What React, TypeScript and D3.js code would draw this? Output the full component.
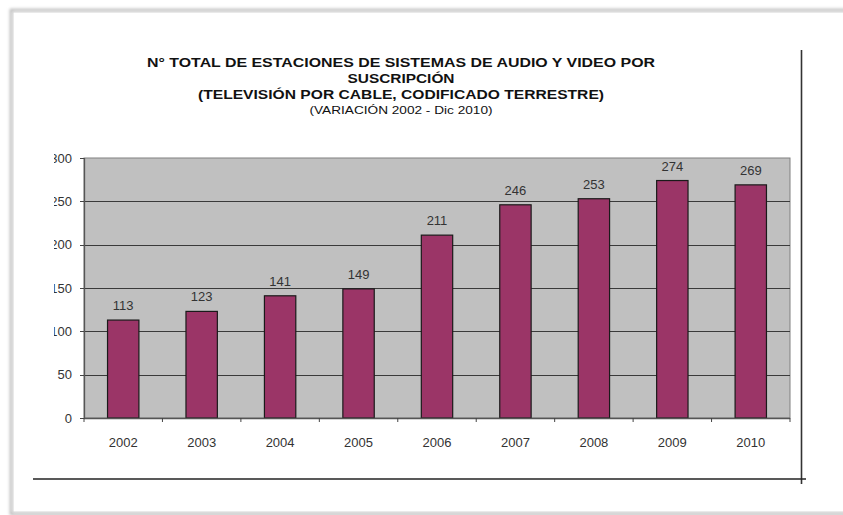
import React, { useEffect, useRef } from "react";
import * as d3 from "d3";

const years = ["2002", "2003", "2004", "2005", "2006", "2007", "2008", "2009", "2010"];
const stations = [113, 123, 141, 149, 211, 246, 253, 274, 269];
const yTicks = [0, 50, 100, 150, 200, 250, 300];
const titleLines = [
  "N° TOTAL DE ESTACIONES DE SISTEMAS DE AUDIO Y VIDEO POR",
  "SUSCRIPCIÓN",
  "(TELEVISIÓN POR CABLE, CODIFICADO TERRESTRE)",
];
const subtitle = "(VARIACIÓN  2002 -  Dic 2010)";

export default function App() {
  const ref = useRef<SVGSVGElement | null>(null);

  useEffect(() => {
    const svg = d3.select(ref.current);
    svg.selectAll("*").remove();
    const W = 843, H = 515;
    const left = 84, right = 790, top = 158, bottom = 418;

    const defs = svg.append("defs");
    const f = defs.append("filter").attr("id", "sh").attr("x", "-5%").attr("y", "-5%").attr("width", "110%").attr("height", "110%");
    f.append("feGaussianBlur").attr("stdDeviation", 1.6);
    defs.append("clipPath").attr("id", "yclip").append("rect").attr("x", 54).attr("y", 0).attr("width", 100).attr("height", H);

    svg.append("rect").attr("width", W).attr("height", H).attr("fill", "#ffffff");
    // page frame with soft shadow
    svg.append("rect").attr("x", 11).attr("y", 10).attr("width", W).attr("height", 504)
      .attr("fill", "none").attr("stroke", "#b8b8b8").attr("stroke-width", 2.5).attr("filter", "url(#sh)");
    svg.append("rect").attr("x", 13).attr("y", 12).attr("width", W).attr("height", 500)
      .attr("fill", "#ffffff").attr("stroke", "#d4d4d4").attr("stroke-width", 1);

    const x = d3.scaleBand<string>().domain(years).range([left, right]).paddingInner(0.6).paddingOuter(0.3);
    const y = d3.scaleLinear().domain([0, 300]).range([bottom, top]);

    // plot area
    svg.append("rect").attr("x", left).attr("y", top).attr("width", right - left).attr("height", bottom - top)
      .attr("fill", "#c0c0c0").attr("stroke", "#808080").attr("stroke-width", 1);

    // gridlines
    svg.append("g").selectAll("line").data(yTicks.filter(t => t > 0 && t < 300)).join("line")
      .attr("x1", left).attr("x2", right)
      .attr("y1", d => Math.round(y(d)) + 0.5).attr("y2", d => Math.round(y(d)) + 0.5)
      .attr("stroke", "#3a3a3a").attr("stroke-width", 1);

    // bars
    svg.append("g").selectAll("rect").data(stations).join("rect")
      .attr("x", (_, i) => x(years[i])!)
      .attr("y", d => y(d))
      .attr("width", x.bandwidth())
      .attr("height", d => bottom - y(d))
      .attr("fill", "#9b3567").attr("stroke", "#1a1a1a").attr("stroke-width", 1.2);

    const font = "Liberation Sans, Arial, sans-serif";

    // value labels
    svg.append("g").selectAll("text").data(stations).join("text")
      .attr("x", (_, i) => x(years[i])! + x.bandwidth() / 2)
      .attr("y", d => y(d) - 10)
      .attr("text-anchor", "middle")
      .attr("font-family", font)
      .attr("font-size", 13).attr("fill", "#333")
      .text(d => String(d));

    // y axis
    const ya = svg.append("g");
    ya.append("line").attr("x1", left + 0.5).attr("x2", left + 0.5).attr("y1", top).attr("y2", bottom)
      .attr("stroke", "#555").attr("stroke-width", 1.3);
    ya.selectAll("line.t").data(yTicks).join("line").attr("class", "t")
      .attr("x1", left - 4).attr("x2", left)
      .attr("y1", d => Math.round(y(d)) + 0.5).attr("y2", d => Math.round(y(d)) + 0.5)
      .attr("stroke", "#444");
    ya.append("g").attr("clip-path", "url(#yclip)").selectAll("text").data(yTicks).join("text")
      .attr("x", 72).attr("y", d => y(d) + 4.5)
      .attr("text-anchor", "end")
      .attr("font-family", font)
      .attr("font-size", 13).attr("fill", "#333")
      .text(d => String(d));

    // x axis
    const xa = svg.append("g");
    xa.append("line").attr("x1", left).attr("x2", right).attr("y1", bottom + 0.5).attr("y2", bottom + 0.5)
      .attr("stroke", "#555").attr("stroke-width", 1.3);
    const step = x.step();
    xa.selectAll("line.t").data(d3.range(years.length + 1)).join("line").attr("class", "t")
      .attr("x1", i => left + i * step).attr("x2", i => left + i * step)
      .attr("y1", bottom).attr("y2", bottom + 4)
      .attr("stroke", "#444");
    xa.selectAll("text").data(years).join("text")
      .attr("x", d => x(d)! + x.bandwidth() / 2)
      .attr("y", 447)
      .attr("text-anchor", "middle")
      .attr("font-family", font)
      .attr("font-size", 13).attr("fill", "#333")
      .text(d => d);

    // title
    const tw = [508, 107, 406];
    const tb = [67, 83, 99];
    svg.append("g").selectAll("text").data(titleLines).join("text")
      .attr("x", 401).attr("y", (_, i) => tb[i])
      .attr("text-anchor", "middle")
      .attr("font-family", font)
      .attr("font-weight", "bold").attr("font-size", 13.5).attr("fill", "#111")
      .attr("textLength", (_, i) => tw[i]).attr("lengthAdjust", "spacingAndGlyphs")
      .text(d => d);
    svg.append("text").attr("x", 401).attr("y", 114).attr("text-anchor", "middle")
      .attr("font-family", font)
      .attr("font-size", 11.5).attr("fill", "#111")
      .attr("textLength", 183).attr("lengthAdjust", "spacingAndGlyphs")
      .text(subtitle);

    // decorative frame lines
    svg.append("line").attr("x1", 801.5).attr("x2", 801.5).attr("y1", 50).attr("y2", 484)
      .attr("stroke", "#333").attr("stroke-width", 1.6);
    svg.append("line").attr("x1", 33).attr("x2", 806).attr("y1", 479).attr("y2", 479)
      .attr("stroke", "#222").attr("stroke-width", 1.6);
  }, []);

  return (
    <svg ref={ref} width={843} height={515}
      style={{ position: "absolute", left: 0, top: 0, display: "block" }} />
  );
}
